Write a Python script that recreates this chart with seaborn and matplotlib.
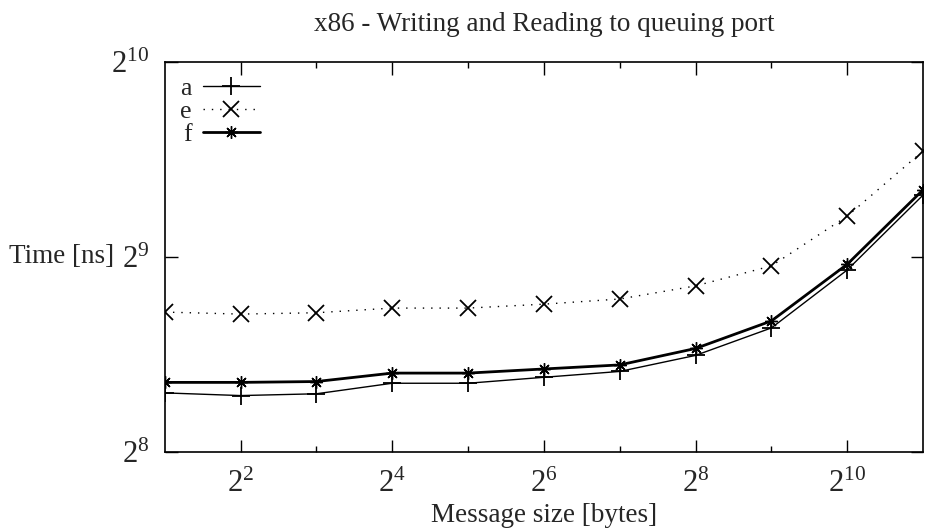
import matplotlib
matplotlib.use("Agg")
import matplotlib.pyplot as plt
import matplotlib.ticker as mticker
import pandas as pd
import seaborn as sns

# message sizes in bytes (2^1 .. 2^11)
sizes = [2, 4, 8, 16, 32, 64, 128, 256, 512, 1024, 2048]

# time in ns
time_a = [316, 313, 315, 327, 327, 334, 341, 361, 398, 489, 638]
time_e = [421, 418, 420, 427, 427, 433, 441, 462, 496, 592, 746]
time_f = [328, 328, 329, 339, 339, 344, 349, 370, 408, 499, 650]

sns.set_style("ticks")
plt.rcParams["font.family"] = ["Liberation Serif", "DejaVu Serif"]
plt.rcParams["mathtext.fontset"] = "custom"
plt.rcParams["mathtext.rm"] = "Liberation Serif"
plt.rcParams["mathtext.it"] = "Liberation Serif"

fig, ax = plt.subplots(figsize=(9.25, 5.32), dpi=100)
fig.subplots_adjust(left=0.178, right=0.998, top=0.884, bottom=0.150)

df = pd.DataFrame({"size": sizes, "a": time_a, "e": time_e, "f": time_f})

sns.lineplot(data=df, x="size", y="a", ax=ax, color="black", linewidth=1.0,
             marker="+", markersize=13, markeredgewidth=1.3,
             markeredgecolor="black", label="a")
sns.lineplot(data=df, x="size", y="e", ax=ax, color="black", linewidth=1.0,
             linestyle=(0, (1, 5)), marker="x", markersize=12,
             markeredgewidth=1.3, markeredgecolor="black", label="e")
sns.lineplot(data=df, x="size", y="f", ax=ax, color="black", linewidth=2.0,
             marker=(8, 2, 0), markersize=9, markeredgewidth=1.0,
             markeredgecolor="black", label="f")

ax.set_xscale("log", base=2)
ax.set_yscale("log", base=2)
ax.set_xlim(2, 2048)
ax.set_ylim(256, 1024)

ax.xaxis.set_major_locator(mticker.FixedLocator([4, 16, 64, 256, 1024]))
ax.xaxis.set_minor_locator(mticker.FixedLocator([8, 32, 128, 512]))
ax.xaxis.set_major_formatter(mticker.FixedFormatter(
    [r"$2^{2}$", r"$2^{4}$", r"$2^{6}$", r"$2^{8}$", r"$2^{10}$"]))
ax.xaxis.set_minor_formatter(mticker.NullFormatter())
ax.yaxis.set_major_locator(mticker.FixedLocator([256, 512, 1024]))
ax.yaxis.set_minor_locator(mticker.NullLocator())
ax.yaxis.set_major_formatter(mticker.FixedFormatter(
    [r"$2^{8}$", r"$2^{9}$", r"$2^{10}$"]))

ax.tick_params(which="both", direction="in", top=True, right=True,
               color="black", labelsize=22, width=1.0)
ax.tick_params(which="major", length=9)
ax.tick_params(axis="y", which="major", pad=11)
ax.tick_params(axis="x", which="major", pad=12.5)
ax.tick_params(which="minor", length=4.5)
for sp in ax.spines.values():
    sp.set_color("black")
    sp.set_linewidth(1.2)

ax.set_title("x86 - Writing and Reading to queuing port", fontsize=19.5, pad=22)
ax.set_xlabel("Message size [bytes]", fontsize=19.5, labelpad=3)
ax.set_ylabel("Time [ns]", fontsize=19.5, rotation=0, ha="right", va="center")
ax.yaxis.set_label_coords(-0.066, 0.5)

ax.legend(loc="upper left", frameon=False, markerfirst=False, fontsize=18.5,
          handlelength=2.2, handletextpad=0.45, labelspacing=0.0,
          borderaxespad=0.2)

fig.savefig("out.png", dpi=100)
